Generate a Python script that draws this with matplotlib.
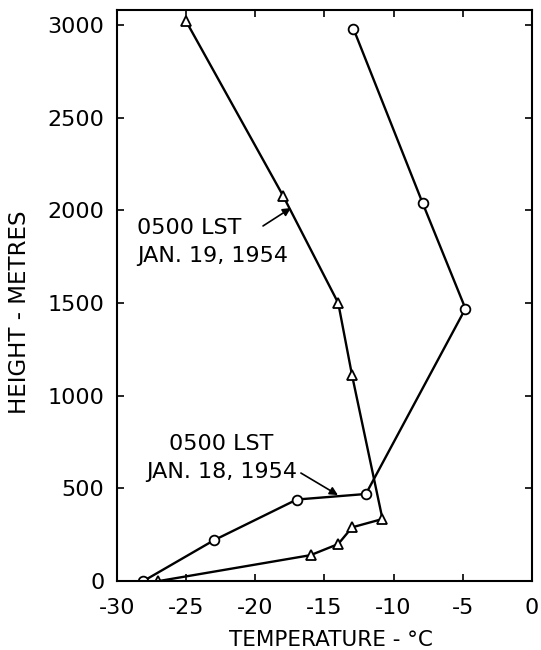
import matplotlib
matplotlib.use("Agg")
import matplotlib.pyplot as plt

# Jan 19, 1954 sounding (triangles)
t19 = [-27.0, -16.0, -14.0, -13.0, -10.8, -13.0, -14.0, -18.0, -25.0]
h19 = [0, 140, 200, 290, 335, 1110, 1500, 2080, 3020]
# Jan 18, 1954 sounding (circles)
t18 = [-28.1, -23.0, -17.0, -12.0, -4.8, -7.9, -12.9]
h18 = [0, 220, 440, 470, 1470, 2040, 2980]

xticks = [-30, -25, -20, -15, -10, -5, 0]
xticklabels = ["-30", "-25", "-20", "-15", "-10", "-5", "0"]
yticks = [0, 500, 1000, 1500, 2000, 2500, 3000]

plt.rcParams['font.family'] = ['DejaVu Sans']
fig = plt.figure(figsize=(5.41, 6.5), dpi=100)
ax = fig.add_axes([0.2163, 0.106, 0.7667, 0.8786])

ax.plot(t19, h19, color='black', lw=1.7, marker='^', ms=7, mfc='white', mec='black', mew=1.3)
ax.plot(t18, h18, color='black', lw=1.7, marker='o', ms=7, mfc='white', mec='black', mew=1.3)

ax.set_xlim(-30, 0)
ax.set_ylim(0, 3081)
ax.set_xticks(xticks)
ax.set_xticklabels(xticklabels)
ax.set_yticks(yticks)
ax.tick_params(direction='in', length=5, width=1.2, labelsize=16,
               top=True, right=True)
ax.tick_params(axis='y', pad=9)
ax.tick_params(axis='x', pad=12)
for s in ax.spines.values():
    s.set_linewidth(1.5)

ax.set_xlabel("TEMPERATURE - °C", fontsize=15.5, va='center')
ax.xaxis.set_label_coords(0.516, -0.103)
ax.set_ylabel("HEIGHT - METRES", fontsize=16.5, va='center')
ax.yaxis.set_label_coords(-0.236, 0.47)

ax.text(-28.55, 1829, "0500 LST\nJAN. 19, 1954", fontsize=16, ha='left',
        va='center', linespacing=1.5)
ax.text(-27.9, 664, "0500 LST\nJAN. 18, 1954", fontsize=16, ha='left',
        va='center', linespacing=1.5, multialignment='center')

arrow = dict(arrowstyle='-|>', color='black', lw=1.2, shrinkA=0, shrinkB=0,
             mutation_scale=12)
ax.annotate("", xy=(-17.42, 2013), xytext=(-19.44, 1916), arrowprops=arrow)
ax.annotate("", xy=(-14.02, 464), xytext=(-16.7, 583), arrowprops=arrow)

fig.savefig("out.png", dpi=100)
